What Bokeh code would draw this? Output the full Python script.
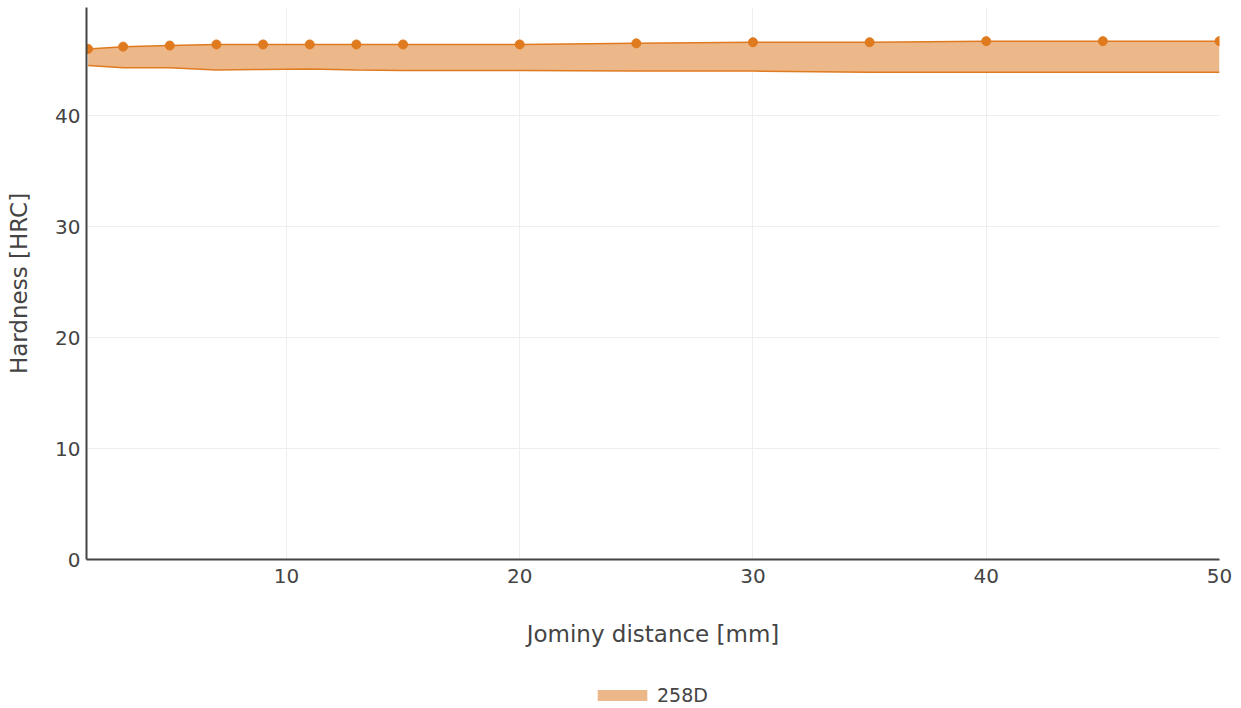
from bokeh.plotting import figure
from bokeh.layouts import column
from bokeh.models import Range1d, FixedTicker, Legend, LegendItem
from bokeh.embed import file_html
from bokeh.resources import INLINE

# Data
distance = [1.5, 3, 5, 7, 9, 11, 13, 15, 20, 25, 30, 35, 40, 45, 50]
hrc_max = [46.0, 46.2, 46.3, 46.4, 46.4, 46.4, 46.4, 46.4, 46.4, 46.5, 46.6, 46.6, 46.7, 46.7, 46.7]
hrc_min = [44.5, 44.3, 44.3, 44.1, 44.15, 44.2, 44.1, 44.05, 44.05, 44.0, 44.0, 43.9, 43.9, 43.9, 43.9]
series_name = "258D"
x_ticks = [10, 20, 30, 40, 50]
y_ticks = [0, 10, 20, 30, 40]

LINE = "#e07a1f"
FILL = "#ecb88a"
TXT = "#444444"
FONT = "DejaVu Sans"

p = figure(width=1241, height=672, output_backend="svg", toolbar_location=None,
           x_range=Range1d(1.43, 50), y_range=Range1d(0, 49.73),
           min_border_left=86, min_border_right=22, min_border_top=7, min_border_bottom=113)
p.outline_line_color = None
p.background_fill_color = "white"
p.border_fill_color = "white"

area = p.varea(x=distance, y1=hrc_min, y2=hrc_max, fill_color=FILL, fill_alpha=1.0)
p.line(distance, hrc_min, line_color=LINE, line_width=1.5)
p.line(distance, hrc_max, line_color=LINE, line_width=1.5)
p.scatter(distance, hrc_max, size=9, fill_color=LINE, line_color=LINE)

for ax, ticks in ((p.xaxis[0], x_ticks), (p.yaxis[0], y_ticks)):
    ax.ticker = FixedTicker(ticks=ticks)
    ax.major_tick_out = 0
    ax.major_tick_in = 0
    ax.minor_tick_out = 0
    ax.minor_tick_in = 0
    ax.axis_line_color = TXT
    ax.axis_line_width = 2
    ax.major_label_text_font = FONT
    ax.major_label_text_font_size = "20px"
    ax.major_label_text_color = TXT
    ax.axis_label_text_font = FONT
    ax.axis_label_text_font_size = "23px"
    ax.axis_label_text_color = TXT
    ax.axis_label_text_font_style = "normal"

p.xaxis.axis_label = "Jominy distance [mm]"
p.yaxis.axis_label = "Hardness [HRC]"
p.xaxis.major_label_standoff = 9
p.xaxis.axis_label_standoff = 35
p.yaxis.major_label_standoff = 6
p.yaxis.axis_label_standoff = 20

p.xgrid.grid_line_color = "#eeeeee"
p.ygrid.grid_line_color = "#eeeeee"
p.xgrid.grid_line_width = 1
p.ygrid.grid_line_width = 1

# Legend strip below the chart (its area renderer lies outside the strip's view)
lg = figure(width=1241, height=36, output_backend="svg", toolbar_location=None,
            x_range=Range1d(0, 1), y_range=Range1d(0, 1),
            min_border_left=0, min_border_right=0, min_border_top=0, min_border_bottom=0)
lg.axis.visible = False
lg.grid.visible = False
lg.outline_line_color = None
swatch = lg.varea(x=distance, y1=hrc_min, y2=hrc_max, fill_color=FILL, fill_alpha=1.0)
legend = Legend(items=[LegendItem(label=series_name, renderers=[swatch])],
                location=(505, 2), orientation="horizontal",
                glyph_width=62, glyph_height=14, padding=0, margin=0,
                label_text_font=FONT, label_text_font_size="19px", label_text_color=TXT,
                border_line_color=None, background_fill_alpha=0, label_standoff=4)
lg.add_layout(legend, "center")

layout = column(p, lg, spacing=0)
open("out.html", "w").write(file_html(layout, INLINE))
